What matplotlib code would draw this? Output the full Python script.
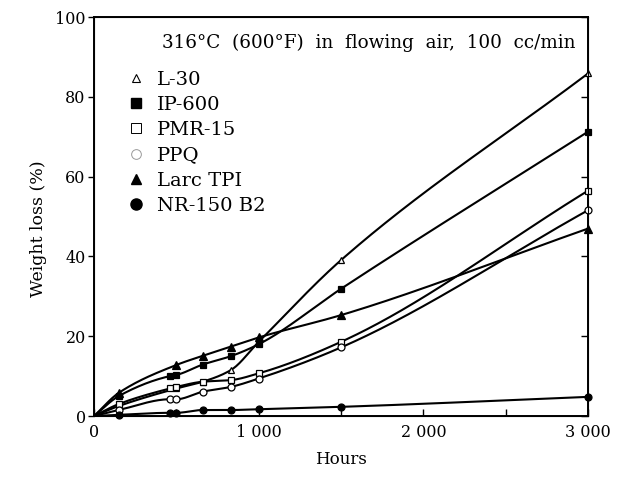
import matplotlib
matplotlib.use("Agg")
import matplotlib.pyplot as plt
import numpy as np
from matplotlib.lines import Line2D

plt.rcParams['font.family'] = ['DejaVu Serif']
plt.rcParams['mathtext.fontset'] = 'dejavuserif'

# values (hours, weight loss %)
l30_h = [0, 150, 500, 660, 830, 1000, 1500, 3000]
l30_v = [0, 2.5, 6.9, 8.6, 11.5, 18.6, 39.1, 85.9]

ip600_h = [0, 150, 460, 500, 660, 830, 1000, 1500, 3000]
ip600_v = [0, 5.0, 10.0, 10.3, 12.9, 15.0, 18.0, 31.9, 71.3]

pmr15_h = [0, 150, 460, 500, 660, 830, 1000, 1500, 3000]
pmr15_v = [0, 3.0, 6.9, 7.3, 8.6, 9.0, 10.7, 18.6, 56.5]

ppq_h = [0, 150, 460, 500, 660, 830, 1000, 1500, 3000]
ppq_v = [0, 1.5, 4.2, 4.2, 6.1, 7.3, 9.4, 17.2, 51.6]

larc_h = [0, 150, 500, 660, 830, 1000, 1500, 3000]
larc_v = [0, 5.8, 12.8, 15.1, 17.4, 19.7, 25.3, 47.0]

nr150_h = [0, 150, 460, 500, 660, 830, 1000, 1500, 3000]
nr150_v = [0, 0.3, 0.8, 0.8, 1.5, 1.5, 1.7, 2.3, 4.8]

labels = ["L-30", "IP-600", "PMR-15", "PPQ", "Larc TPI", "NR-150 B2"]


def smooth(x, y, n=300):
    # monotone cubic curve through the measured points
    x = np.asarray(x, float)
    y = np.asarray(y, float)
    h = np.diff(x)
    d = np.diff(y) / h
    m = np.zeros_like(y)
    m[0], m[-1] = d[0], d[-1]
    for k in range(1, len(x) - 1):
        if d[k - 1] * d[k] <= 0:
            m[k] = 0
        else:
            w1 = 2 * h[k] + h[k - 1]
            w2 = h[k] + 2 * h[k - 1]
            m[k] = (w1 + w2) / (w1 / d[k - 1] + w2 / d[k])
    xs = np.linspace(x[0], x[-1], n)
    i = np.clip(np.searchsorted(x, xs) - 1, 0, len(x) - 2)
    t = (xs - x[i]) / h[i]
    h00 = 2 * t**3 - 3 * t**2 + 1
    h10 = t**3 - 2 * t**2 + t
    h01 = -2 * t**3 + 3 * t**2
    h11 = t**3 - t**2
    ys = h00 * y[i] + h10 * h[i] * m[i] + h01 * y[i + 1] + h11 * h[i] * m[i + 1]
    return xs, ys


fig = plt.figure(figsize=(6.23, 4.9), dpi=100)
ax = fig.add_axes([0.151, 0.151, 0.793, 0.814])

series = [
    (l30_h, l30_v, dict(marker="^", mfc="white", ms=5)),
    (ip600_h, ip600_v, dict(marker="s", mfc="black", ms=5)),
    (pmr15_h, pmr15_v, dict(marker="s", mfc="white", ms=5)),
    (ppq_h, ppq_v, dict(marker="o", mfc="white", ms=5)),
    (larc_h, larc_v, dict(marker="^", mfc="black", ms=5.5)),
    (nr150_h, nr150_v, dict(marker="o", mfc="black", ms=5)),
]

for hx, vy, st in series:
    xs, ys = smooth(hx, vy)
    ax.plot(xs, ys, color="black", lw=1.5, zorder=2)
    ax.plot(hx[1:], vy[1:], ls="none", mec="black", mew=0.9, zorder=3, clip_on=False, **st)

ax.set_xlim(0, 3000)
ax.set_ylim(0, 100)
ax.set_xticks([0, 1000, 2000, 3000])
ax.set_xticklabels(["0", "1 000", "2 000", "3 000"])
ax.set_xticks([500, 1500, 2500], minor=True)
ax.set_yticks([0, 20, 40, 60, 80, 100])
ax.tick_params(axis="x", which="both", direction="in", length=5, width=1, labelsize=11.5, pad=6)
ax.tick_params(axis="y", direction="out", length=4, width=1, labelsize=11.5, pad=2)
for sp in ax.spines.values():
    sp.set_linewidth(1.4)

# right-hand ticks point inward
ax2 = ax.twinx()
ax2.set_ylim(0, 100)
ax2.set_yticks([0, 20, 40, 60, 80, 100])
ax2.tick_params(axis="y", direction="in", length=5, width=1, labelright=False)

ax.set_xlabel("Hours", fontsize=12, labelpad=7)
ax.set_ylabel("Weight loss (%)", fontsize=12.5)
ax.yaxis.set_label_coords(-0.095, 0.47)

ax.text(0.138, 0.935, "316°C  (600°F)  in  flowing  air,  100  cc/min",
        transform=ax.transAxes, fontsize=13.2, va="center", ha="left")

handles = [
    Line2D([], [], ls="none", marker="^", mfc="white", mec="black", ms=6, mew=0.8),
    Line2D([], [], ls="none", marker="s", mfc="black", mec="black", ms=7),
    Line2D([], [], ls="none", marker="s", mfc="white", mec="black", ms=7, mew=0.7),
    Line2D([], [], ls="none", marker="o", mfc="white", mec="#999999", ms=7, mew=0.7),
    Line2D([], [], ls="none", marker="^", mfc="black", mec="black", ms=7),
    Line2D([], [], ls="none", marker="o", mfc="black", mec="black", ms=8),
]
ax.legend(handles, labels, loc="upper left", bbox_to_anchor=(0.05, 0.885),
          frameon=False, fontsize=14, handlelength=1.0, handletextpad=0.55,
          labelspacing=0.37, borderaxespad=0)

fig.savefig("out.png", dpi=100)
